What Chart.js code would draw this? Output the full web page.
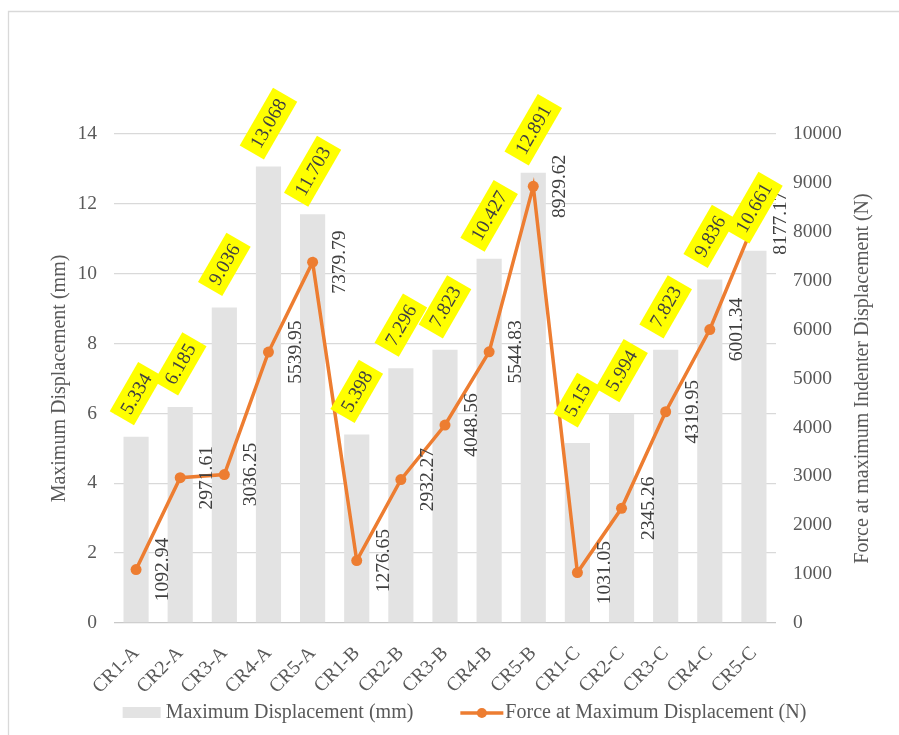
<!DOCTYPE html>
<html><head><meta charset="utf-8">
<script src="https://cdn.jsdelivr.net/npm/chart.js@4.4.0/dist/chart.umd.min.js"></script>
<style>html,body{margin:0;padding:0;background:#fff;}canvas{display:block;}</style>
</head><body>
<canvas id="c" width="899" height="735"></canvas>
<script>
const categories = ['CR1-A','CR2-A','CR3-A','CR4-A','CR5-A','CR1-B','CR2-B','CR3-B','CR4-B','CR5-B','CR1-C','CR2-C','CR3-C','CR4-C','CR5-C'];
const maxDisplacement = [5.334, 6.185, 9.036, 13.068, 11.703, 5.398, 7.296, 7.823, 10.427, 12.891, 5.15, 5.994, 7.823, 9.836, 10.661];
const forceAtMaxDisplacement = [1092.94, 2971.61, 3036.25, 5539.95, 7379.79, 1276.65, 2932.27, 4048.56, 5544.83, 8929.62, 1031.05, 2345.26, 4319.95, 6001.34, 8177.17];
const seriesNames = ['Maximum Displacement (mm)', 'Force at Maximum Displacement (N)'];
const leftAxisTitle = 'Maximum Displacement (mm)';
const rightAxisTitle = 'Force at maximum Indenter Displacement (N)';
const leftAxisRange = { min: 0, max: 14, step: 2 };
const rightAxisRange = { min: 0, max: 10000, step: 1000 };

const FONT = "'Liberation Serif', 'Times New Roman', serif";
const BAR_COLOR = '#e3e3e3';
const LINE_COLOR = '#ed7d31';
const TEXT_COLOR = '#595959';
const LABEL_COLOR = '#404040';

const decor = {
  id: 'decor',
  beforeDraw(chart) {
    const ctx = chart.ctx;
    ctx.save();
    ctx.fillStyle = '#fff';
    ctx.fillRect(0, 0, chart.width, chart.height);
    ctx.strokeStyle = '#d9d9d9';
    ctx.lineWidth = 1.3;
    ctx.beginPath();
    ctx.moveTo(8.5, chart.height + 2);
    ctx.lineTo(8.5, 11.5);
    ctx.lineTo(chart.width + 2, 11.5);
    ctx.stroke();
    ctx.restore();
  },
  afterDatasetsDraw(chart) {
    const ctx = chart.ctx;
    ctx.save();
    ctx.font = '19.5px ' + FONT;
    ctx.textAlign = 'center';
    ctx.textBaseline = 'middle';
    // line value labels (vertical)
    const lineMeta = chart.getDatasetMeta(1);
    lineMeta.data.forEach((pt, i) => {
      ctx.save();
      ctx.translate(pt.x + 27, pt.y);
      ctx.rotate(-Math.PI / 2);
      ctx.fillStyle = LABEL_COLOR;
      ctx.fillText(String(forceAtMaxDisplacement[i]), 0, 0);
      ctx.restore();
    });
    // bar value labels (yellow boxes)
    const barMeta = chart.getDatasetMeta(0);
    barMeta.data.forEach((bar, i) => {
      const txt = String(maxDisplacement[i]);
      const w = ctx.measureText(txt).width + 13, h = 28;
      ctx.save();
      ctx.translate(bar.x, bar.y - 43);
      ctx.rotate(-60 * Math.PI / 180);
      ctx.fillStyle = '#ffff00';
      ctx.fillRect(-w / 2, -h / 2, w, h);
      ctx.fillStyle = LABEL_COLOR;
      ctx.fillText(txt, 0, 1);
      ctx.restore();
    });
    ctx.restore();
  },
  afterDraw(chart) {
    const ctx = chart.ctx;
    const area = chart.chartArea;
    ctx.save();
    // right axis title, reading bottom-to-top
    ctx.font = '20px ' + FONT;
    ctx.fillStyle = TEXT_COLOR;
    ctx.textAlign = 'center';
    ctx.textBaseline = 'middle';
    ctx.save();
    ctx.translate(chart.scales.y1.right - 36, (area.top + area.bottom) / 2);
    ctx.rotate(-Math.PI / 2);
    ctx.fillText(rightAxisTitle, 0, 0);
    ctx.restore();
    // legend
    const ds = chart.data.datasets;
    const tw1 = ctx.measureText(ds[0].label).width;
    const tw2 = ctx.measureText(ds[1].label).width;
    const total = 38 + 5 + tw1 + 47 + 43 + 2 + tw2;
    let x = 464.5 - total / 2;
    const y = 713;
    ctx.textAlign = 'left';
    ctx.fillStyle = ds[0].backgroundColor;
    ctx.fillRect(x, y - 6, 38, 11);
    x += 43;
    ctx.fillStyle = TEXT_COLOR;
    ctx.fillText(ds[0].label, x, y);
    x += tw1 + 47;
    ctx.strokeStyle = ds[1].borderColor;
    ctx.lineWidth = 3.5;
    ctx.beginPath();
    ctx.moveTo(x, y);
    ctx.lineTo(x + 43, y);
    ctx.stroke();
    ctx.fillStyle = ds[1].borderColor;
    ctx.beginPath();
    ctx.arc(x + 21.5, y, 5, 0, Math.PI * 2);
    ctx.fill();
    x += 45;
    ctx.fillStyle = TEXT_COLOR;
    ctx.fillText(ds[1].label, x, y);
    ctx.restore();
  }
};

new Chart(document.getElementById('c'), {
  type: 'bar',
  data: {
    labels: categories,
    datasets: [
      {
        type: 'bar',
        label: seriesNames[0],
        data: maxDisplacement,
        yAxisID: 'y',
        backgroundColor: BAR_COLOR,
        barPercentage: 0.57,
        categoryPercentage: 1,
        order: 2
      },
      {
        type: 'line',
        label: seriesNames[1],
        data: forceAtMaxDisplacement,
        yAxisID: 'y1',
        borderColor: LINE_COLOR,
        backgroundColor: LINE_COLOR,
        borderWidth: 3.5,
        pointRadius: 5.5,
        pointBorderWidth: 0,
        pointBackgroundColor: LINE_COLOR,
        tension: 0,
        order: 1
      }
    ]
  },
  options: {
    responsive: false,
    animation: false,
    layout: { padding: { top: 134, left: 0, right: 0, bottom: 0 } },
    plugins: { legend: { display: false }, tooltip: { enabled: false } },
    scales: {
      x: {
        grid: { display: false },
        border: { display: false },
        ticks: {
          color: TEXT_COLOR,
          font: { family: FONT, size: 19.5 },
          maxRotation: 45, minRotation: 45,
          autoSkip: false,
          padding: 11
        },
        afterFit(s) { s.height = 112; }
      },
      y: {
        position: 'left',
        min: leftAxisRange.min, max: leftAxisRange.max,
        ticks: {
          stepSize: leftAxisRange.step,
          color: TEXT_COLOR,
          font: { family: FONT, size: 19.5 },
          padding: 17
        },
        grid: {
          drawTicks: false,
          lineWidth: 1.3,
          color: (c) => c.tick && c.tick.value === 0 ? '#c8c8c8' : '#d9d9d9'
        },
        border: { display: false },
        title: {
          display: true,
          text: leftAxisTitle,
          color: TEXT_COLOR,
          font: { family: FONT, size: 20 },
          padding: { top: 48, bottom: 0 }
        },
        afterFit(s) { s.width = 114; }
      },
      y1: {
        position: 'right',
        min: rightAxisRange.min, max: rightAxisRange.max,
        ticks: {
          stepSize: rightAxisRange.step,
          color: TEXT_COLOR,
          font: { family: FONT, size: 19.5 },
          padding: 17,
          callback: (v) => String(v)
        },
        grid: { drawOnChartArea: false, drawTicks: false },
        border: { display: false },
        afterFit(s) { s.width = 123; }
      }
    }
  },
  plugins: [decor]
});
</script>
</body></html>
